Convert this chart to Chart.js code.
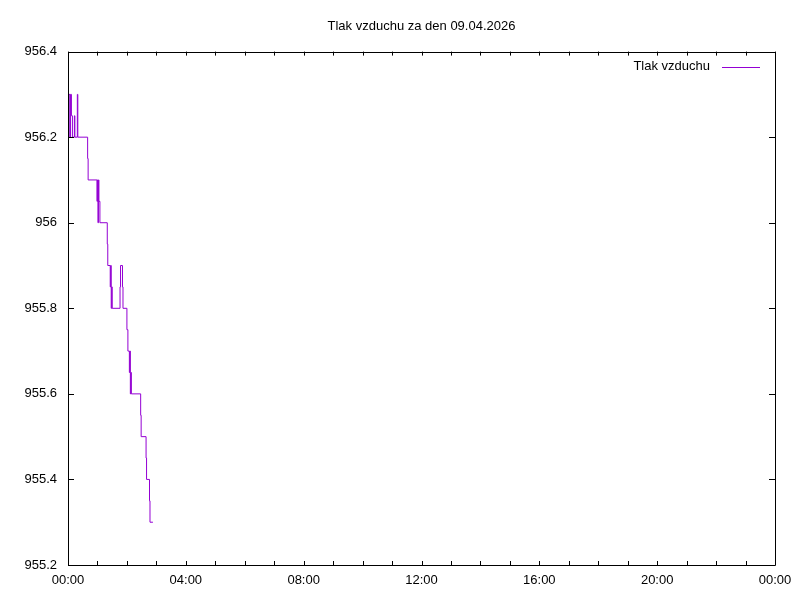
<!DOCTYPE html>
<html>
<head>
<meta charset="utf-8">
<script src="https://cdn.jsdelivr.net/npm/chart.js@4/dist/chart.umd.min.js"></script>
<style>
html,body{margin:0;padding:0;background:#fff;}
#wrap{width:800px;height:600px;}
</style>
</head>
<body>
<div id="wrap"><canvas id="c" width="800" height="600"></canvas></div>
<script>
// Minutes since midnight where the reading changes
const minutes = [0,1,2,4,5,7,9,13,14,19,20,40,41,59,60,61,62,63,65,80,81,86,87,88,89,90,106,107,111,112,120,122,125,126,127,128,129,148,149,159,160,166,167,173];
// Pressure values (hPa)
const pressure = [956.25,956.2,956.3,956.2,956.3,956.25,956.2,956.25,956.2,956.3,956.2,956.15,956.1,956.05,956.1,956.0,956.1,956.05,956.0,955.95,955.9,955.85,955.9,955.8,955.85,955.8,955.85,955.9,955.85,955.8,955.75,955.7,955.65,955.7,955.6,955.65,955.6,955.55,955.5,955.45,955.4,955.35,955.3,955.3];
const xTickMinutes = [0,240,480,720,960,1200,1440];
const xTickLabels = ['00:00','04:00','08:00','12:00','16:00','20:00','00:00'];
const xMinorMinutes = [0,60,120,180,240,300,360,420,480,540,600,660,720,780,840,900,960,1020,1080,1140,1200,1260,1320,1380,1440];
const yTicks = [955.2,955.4,955.6,955.8,956.0,956.2,956.4];
const seriesLabel = 'Tlak vzduchu';
const titleText = 'Tlak vzduchu za den 09.04.2026';

const FONT = "'Liberation Sans', Arial, sans-serif";

const framePlugin = {
  id: 'frame',
  afterDatasetsDraw(chart) {
    const {ctx, chartArea: a, scales: {x, y}} = chart;
    ctx.save();
    ctx.strokeStyle = '#000';
    ctx.lineWidth = 1;
    ctx.beginPath();
    const tl = 4;
    xMinorMinutes.forEach(m => {
      const px = Math.round(x.getPixelForValue(m)) + 0.5;
      ctx.moveTo(px, a.bottom); ctx.lineTo(px, a.bottom - tl);
      ctx.moveTo(px, a.top); ctx.lineTo(px, a.top + tl);
    });
    yTicks.forEach(v => {
      const py = Math.round(y.getPixelForValue(v)) + 0.5;
      ctx.moveTo(a.left, py); ctx.lineTo(a.left + tl + 2, py);
      ctx.moveTo(a.right, py); ctx.lineTo(a.right - tl - 2, py);
    });
    ctx.stroke();
    ctx.beginPath();
    ctx.rect(Math.round(a.left) + 0.5, Math.round(a.top) + 0.5, Math.round(a.right - a.left), Math.round(a.bottom - a.top));
    ctx.stroke();
    // key
    const ds = chart.data.datasets[0];
    ctx.font = '13px ' + FONT;
    ctx.fillStyle = '#000';
    ctx.textAlign = 'right';
    ctx.textBaseline = 'middle';
    const ky = a.top + 15;
    ctx.fillText(ds.label, a.right - 65, ky);
    ctx.strokeStyle = ds.borderColor;
    ctx.beginPath();
    ctx.moveTo(a.right - 53, Math.round(ky) + 0.5);
    ctx.lineTo(a.right - 15, Math.round(ky) + 0.5);
    ctx.stroke();
    ctx.restore();
  }
};

new Chart(document.getElementById('c'), {
  type: 'line',
  data: {
    datasets: [{
      label: seriesLabel,
      data: minutes.map((m, i) => ({x: m, y: pressure[i]})),
      borderColor: '#9400d3',
      backgroundColor: '#9400d3',
      borderWidth: 1,
      pointRadius: 0,
      stepped: true,
      fill: false
    }]
  },
  options: {
    responsive: false,
    animation: false,
    layout: {padding: {left: 0, right: 25, top: 0, bottom: 0}},
    plugins: {
      legend: {display: false},
      tooltip: {enabled: false},
      title: {
        display: true,
        fullSize: false,
        text: titleText,
        color: '#000',
        font: {family: FONT, size: 13, weight: 'normal'},
        padding: {top: 19, bottom: 17}
      }
    },
    scales: {
      x: {
        type: 'linear',
        min: 0, max: 1440,
        afterBuildTicks(s) { s.ticks = xTickMinutes.map(v => ({value: v})); },
        afterFit(s) { s.height = 35; },
        ticks: {
          autoSkip: false, maxRotation: 0, padding: 8,
          color: '#000',
          font: {family: FONT, size: 13},
          callback(v, i) { return xTickLabels[i]; }
        },
        grid: {display: false, drawTicks: false},
        border: {display: false}
      },
      y: {
        type: 'linear',
        min: 955.2, max: 956.4,
        afterBuildTicks(s) { s.ticks = yTicks.map(v => ({value: v})); },
        afterFit(s) { s.width = 68; },
        ticks: {
          padding: 11,
          color: '#000',
          font: {family: FONT, size: 13},
          callback(v) { return String(Number(Number(v).toFixed(2))); }
        },
        grid: {display: false, drawTicks: false},
        border: {display: false}
      }
    }
  },
  plugins: [framePlugin]
});
</script>
</body>
</html>
